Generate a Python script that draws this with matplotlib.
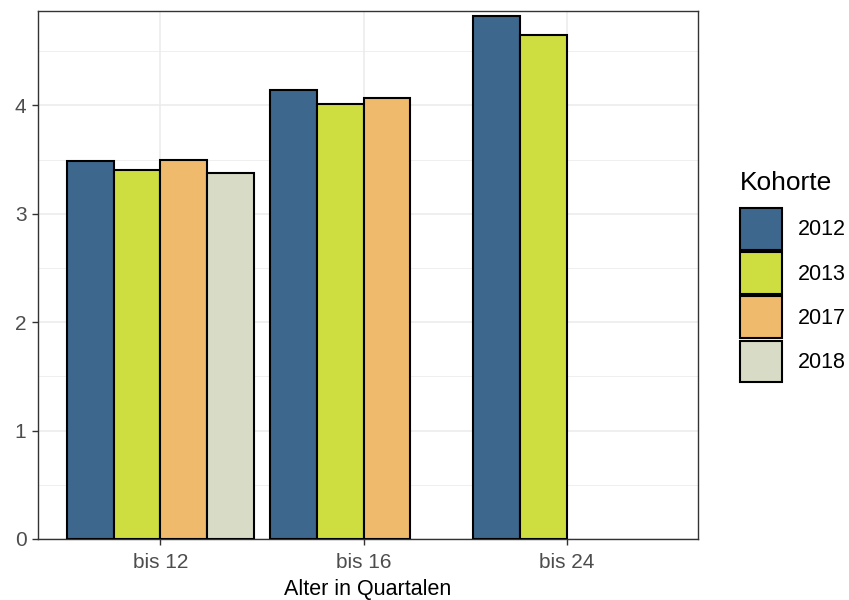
import matplotlib
matplotlib.use("Agg")
import matplotlib.pyplot as plt
from matplotlib.patches import Patch
import numpy as np

plt.rcParams['font.family'] = ['Liberation Sans', 'DejaVu Sans']

categories = ["bis 12", "bis 16", "bis 24"]
cohorts = ["2012", "2013", "2017", "2018"]
values = {
    "2012": [3.49, 4.14, 4.82],
    "2013": [3.40, 4.01, 4.65],
    "2017": [3.50, 4.07, None],
    "2018": [3.38, None, None],
}
colors = {"2012": "#3d678c", "2013": "#cede41", "2017": "#f0ba6c", "2018": "#d8dcc6"}

W, H = 849, 600
fig = plt.figure(figsize=(W/100, H/100), dpi=100)
ax = fig.add_axes([37.5/W, 1-539/H, (698-37.5)/W, (539-11)/H])

x = np.arange(len(categories))
bw = 0.92/4
for i, c in enumerate(cohorts):
    for j, v in enumerate(values[c]):
        if v is None:
            continue
        ax.bar(x[j] - 0.46 + bw*(i+0.5), v, width=bw, color=colors[c],
               edgecolor="black", linewidth=1.5, zorder=3)

ax.set_xlim(-0.605, 2.645)
ax.set_ylim(0, 4.87)
ax.set_xticks(x)
ax.set_xticklabels(categories)
ax.set_yticks([0, 1, 2, 3, 4])
ax.set_yticks([0.5, 1.5, 2.5, 3.5, 4.5], minor=True)
ax.grid(which="major", color="#ebebeb", linewidth=1.1, zorder=0)
ax.grid(which="minor", axis="y", color="#ebebeb", linewidth=0.55, zorder=0)
ax.tick_params(which="minor", length=0)
ax.tick_params(which="major", length=4, width=1.0, color="#333333",
               labelsize=15, labelcolor="#4d4d4d", pad=4)
ax.tick_params(axis="x", pad=6)
for s in ax.spines.values():
    s.set_color("#333333")
    s.set_linewidth(1.0)
ax.set_xlabel("Alter in Quartalen", fontsize=15.5, color="black", labelpad=5)

fig.text(740/W, 1-183/H, "Kohorte", fontsize=19, ha="left", va="center")
handles = [Patch(facecolor=colors[c], edgecolor="black", linewidth=1.5) for c in cohorts]
leg = fig.legend(handles, cohorts, loc="upper left",
                 bbox_to_anchor=(740/W, 1-208/H), frameon=False,
                 fontsize=15.5, handlelength=1.95,
                 handleheight=2.6, labelspacing=0.12, handletextpad=0.75,
                 borderpad=0, borderaxespad=0)
fig.savefig("out.png", dpi=100)
